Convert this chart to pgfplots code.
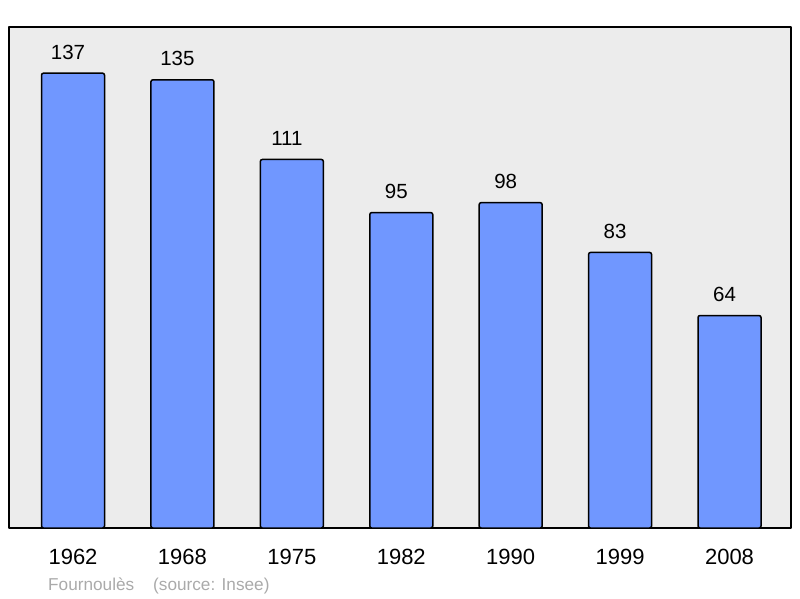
\documentclass[border=0pt]{standalone}
\usepackage{pgfplots}
\pgfplotsset{compat=1.18}
\usepackage{fontspec}
\setmainfont{Liberation Sans}
\definecolor{barblue}{RGB}{112,151,255}
\definecolor{bggray}{RGB}{236,236,236}
\definecolor{footgray}{RGB}{170,170,170}
\begin{document}
\begin{tikzpicture}
\path[use as bounding box] (-9pt,-70pt) rectangle (791pt,528pt);
\begin{axis}[
  scale only axis,
  width=782pt, height=501pt,
  xmin=-0.585, xmax=6.562,
  ymin=0, ymax=150.9,
  axis background/.style={fill=bggray},
  axis line style={line width=2pt, line join=round},
  xtick={0,1,2,3,4,5,6},
  xticklabels={1962,1968,1975,1982,1990,1999,2008},
  major tick length=0pt,
  ytick=\empty,
  xticklabel style={anchor=base, yshift=-36pt, font=\fontsize{22}{26}\selectfont},
  /pgf/number format/assume math mode=true,
  ybar, bar width=63pt,
  nodes near coords,
  nodes near coords style={anchor=base, yshift=14pt, xshift=-5pt, font=\fontsize{20.5}{24}\selectfont, black},
  every node near coord/.append style={/pgf/number format/.cd, fixed, precision=0},
]
\addplot[fill=barblue, draw=black, line width=1.5pt, rounded corners=2pt] coordinates {
(0,137) (1,135) (2,111) (3,95) (4,98) (5,83) (6,64)
};
\end{axis}
\node[anchor=base west, inner sep=0pt, text=footgray, font=\fontsize{17.2}{20}\selectfont] at (39pt,-62pt) {Fournoulès};
\node[anchor=base west, inner sep=0pt, text=footgray, font=\fontsize{17.2}{20}\selectfont] at (144pt,-62pt) {(source: Insee)};
\end{tikzpicture}
\end{document}
